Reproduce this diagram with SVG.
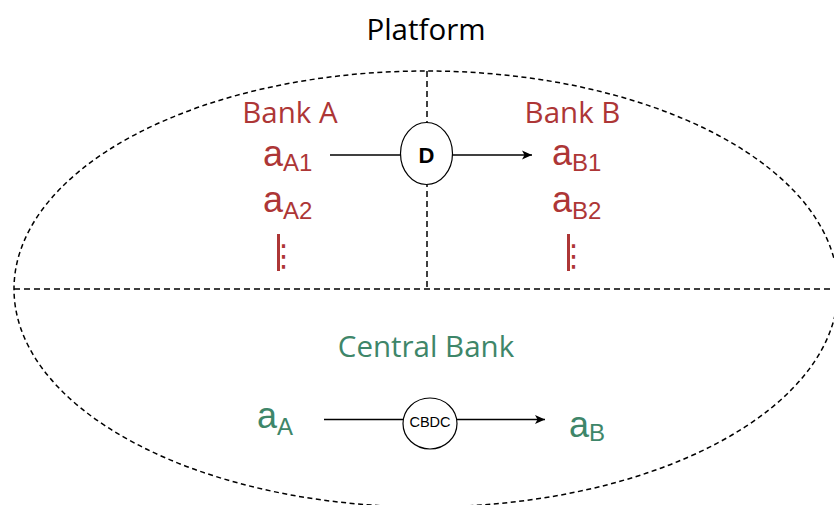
<svg xmlns="http://www.w3.org/2000/svg" width="834" height="505" viewBox="0 0 834 505">
<defs>
<marker id="arr" markerWidth="10" markerHeight="10" refX="10" refY="5" orient="auto" markerUnits="userSpaceOnUse">
<path d="M0,0.5 L10,5 L0,9.5 L2.5,5 Z" fill="#000"/>
</marker>
<style>
.dash{fill:none;stroke:#000;stroke-width:1.5;stroke-dasharray:6 4}
.edash{fill:none;stroke:#000;stroke-width:1.5;stroke-dasharray:5 3.5}
.title{font-family:"Open Sans","Noto Sans",sans-serif;font-size:29.5px;text-anchor:middle}
.red{fill:#ad3636}
.green{fill:#3e8669}
.math{font-family:"Liberation Sans",Arial,sans-serif;font-size:36px}
.sub{font-size:24px}
.conn{stroke:#000;stroke-width:1.5;fill:none}
.node{fill:#fff;stroke:#000;stroke-width:1.2}
.bar{font-family:"DejaVu Sans",sans-serif}
</style>
</defs>
<rect width="834" height="505" fill="#fff"/>
<g id="platform">
<ellipse class="edash" cx="426" cy="289" rx="412" ry="218"/>
<line class="dash" x1="14" y1="289" x2="834" y2="289"/>
<line class="dash" x1="427" y1="71" x2="427" y2="289"/>
<text class="title" x="426" y="40" fill="#000">Platform</text>
</g>
<g id="bank-a">
<text class="title red" x="290" y="123">Bank A</text>
<text class="math red" x="263" y="166">a<tspan class="sub" dy="5">A1</tspan></text>
<text class="math red" x="263" y="212">a<tspan class="sub" dy="7">A2</tspan></text>
<rect class="red" x="277" y="234" width="3" height="37"/>
<text class="bar red" x="283.8" y="266" font-size="30" text-anchor="middle">⋮</text>
</g>
<g id="bank-b">
<text class="title red" x="572.5" y="123">Bank B</text>
<text class="math red" x="552" y="165">a<tspan class="sub" dy="6">B1</tspan></text>
<text class="math red" x="552" y="212">a<tspan class="sub" dy="7">B2</tspan></text>
<rect class="red" x="567" y="234" width="3" height="37"/>
<text class="bar red" x="573.8" y="266" font-size="30" text-anchor="middle">⋮</text>
</g>
<g id="central-bank">
<text class="title green" x="426" y="357">Central Bank</text>
<text class="math green" x="257" y="428">a<tspan class="sub" dy="7">A</tspan></text>
<text class="math green" x="569" y="437">a<tspan class="sub" dy="4">B</tspan></text>
</g>
<g id="connectors">
<line class="conn" x1="330" y1="155" x2="401" y2="155"/>
<line class="conn" x1="452" y1="155" x2="532" y2="155" marker-end="url(#arr)"/>
<line class="conn" x1="324" y1="419.5" x2="404" y2="419.5"/>
<line class="conn" x1="456" y1="419.5" x2="545" y2="419.5" marker-end="url(#arr)"/>
</g>
<g id="node-d">
<ellipse class="node" cx="426.5" cy="153.5" rx="26" ry="31"/>
<text x="426.5" y="162.5" font-family="Liberation Sans,Arial,sans-serif" font-weight="bold" font-size="22" text-anchor="middle">D</text>
</g>
<g id="node-cbdc">
<ellipse class="node" cx="430" cy="423.5" rx="27" ry="25.5"/>
<text x="430" y="427" font-family="Liberation Sans,Arial,sans-serif" font-size="14.5" text-anchor="middle">CBDC</text>
</g>
</svg>
